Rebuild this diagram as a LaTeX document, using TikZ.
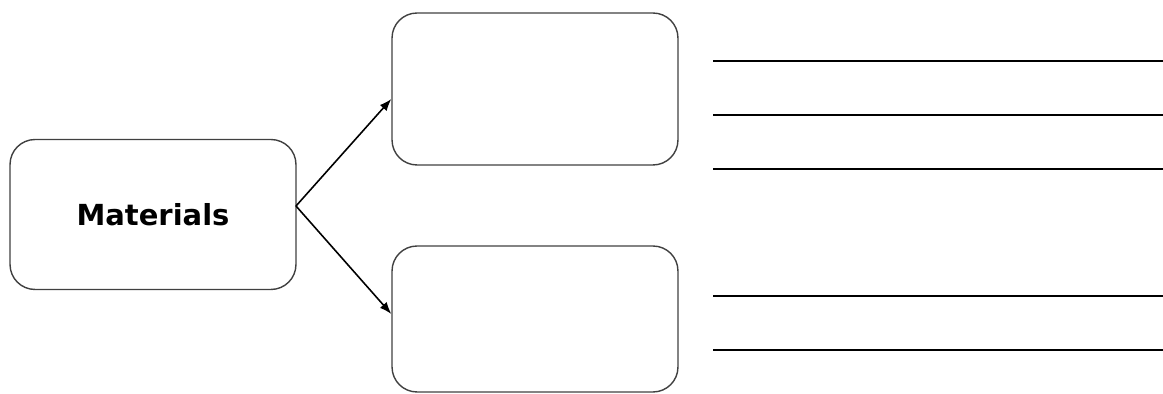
\documentclass[tikz,border=0pt]{standalone}
\usepackage{fontspec}
\setsansfont{DejaVu Sans}
\usepackage{xcolor}
\usetikzlibrary{positioning, arrows.meta}

\tikzset{
    box/.style={draw=black!75, line width=0.8pt, rounded corners=0.5cm,
        minimum width=5.72cm, minimum height=3.0cm, inner sep=0pt},
    blank/.style={draw=black, line width=1pt}
}

\begin{document}
\begin{tikzpicture}[x=0.02cm, y=-0.02cm, >={Latex[length=2.4mm, width=1.8mm]}]
        \useasboundingbox (0,0) rectangle (1163,394);
        \node[box] (mat) at (153,214.5) {\sffamily\bfseries\fontsize{16.5}{20}\selectfont Materials};
        \node[box, minimum height=3.04cm] (up) at (535,89) {};
        \node[box, minimum height=2.92cm] (down) at (535,319) {};
        \coordinate (split) at (296,206);
%
        \draw[->, line width=0.9pt] (split) -- ([yshift=-0.2cm]up.west);
        \draw[->, line width=0.9pt] (split) -- ([yshift=0.1cm]down.west);
%
        \foreach \y in {61,115,169,296,350}
            \draw[blank] (713,\y) -- (1163,\y);
\end{tikzpicture}
\end{document}
